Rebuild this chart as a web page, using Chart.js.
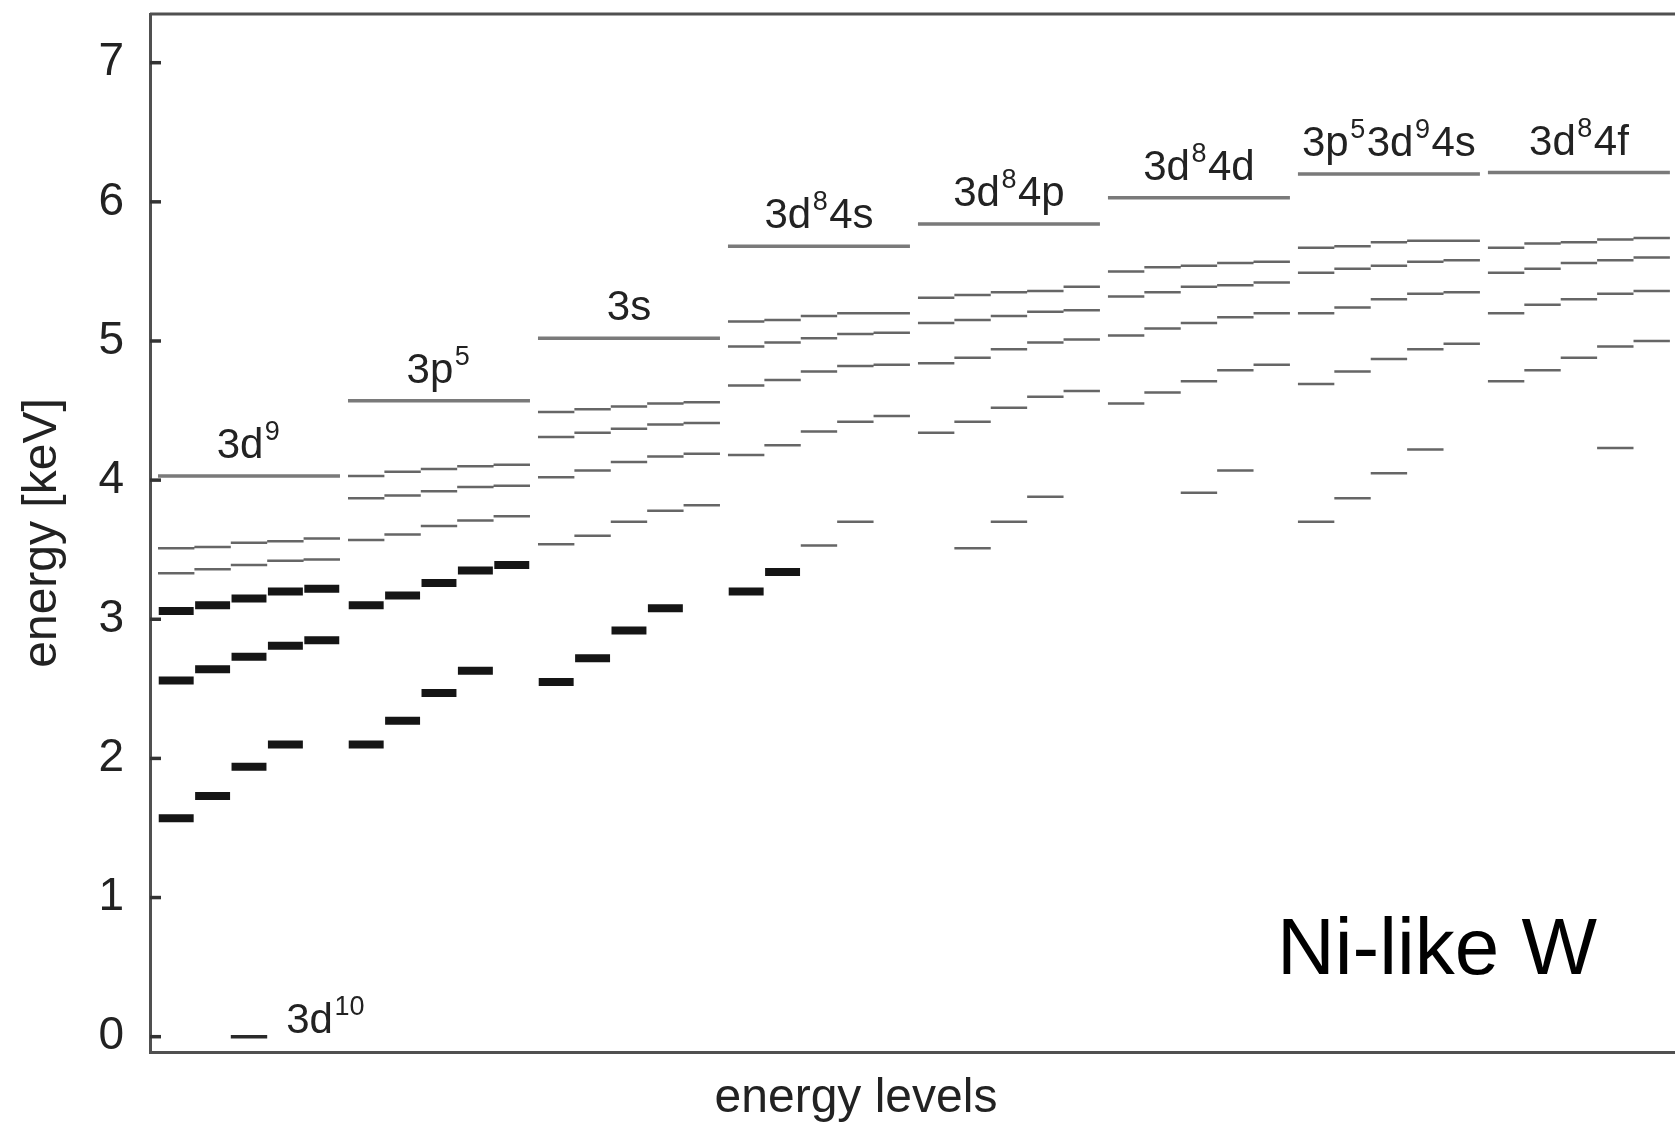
<!DOCTYPE html>
<html>
<head>
<meta charset="utf-8">
<title>Ni-like W energy levels</title>
<script src="https://cdn.jsdelivr.net/npm/chart.js@4/dist/chart.umd.min.js"></script>
<style>
  html, body { margin: 0; padding: 0; background: #fff; }
  canvas { display: block; }
</style>
</head>
<body>
<canvas id="levels" width="1675" height="1123"></canvas>
<script>
// configuration of each column group, drawn as text + superscript pairs
const groupLabels = [
  ['3d', '9'],
  ['3p', '5'],
  ['3s'],
  ['3d', '8', '4s'],
  ['3d', '8', '4p'],
  ['3d', '8', '4d'],
  ['3p', '5', '3d', '9', '4s'],
  ['3d', '8', '4f']
];
const groundLabel = ['3d', '10'];

// energy (keV) of the long line under each label
const limitEnergy = [4.03, 4.57, 5.02, 5.68, 5.84, 6.03, 6.20, 6.21];
const groundEnergy = 0;

// thick levels, five sub-columns per row (null = no level)
const strongLevels = [
  [[1.57, 1.73, 1.94, 2.10, null], [2.56, 2.64, 2.73, 2.81, 2.85], [3.06, 3.10, 3.15, 3.20, 3.22]],
  [[2.10, 2.27, 2.47, 2.63, null], [3.10, 3.17, 3.26, 3.35, 3.39]],
  [[2.55, 2.72, 2.92, 3.08, null]],
  [[3.20, 3.34, null, null, null]],
  [], [], [], []
];

// thin levels
const weakLevels = [
  [[3.33, 3.36, 3.39, 3.42, 3.43], [3.51, 3.52, 3.55, 3.56, 3.58]],
  [[3.57, 3.61, 3.67, 3.71, 3.74], [3.87, 3.89, 3.92, 3.95, 3.96], [4.03, 4.06, 4.08, 4.10, 4.11]],
  [[3.54, 3.60, 3.70, 3.78, 3.82], [4.02, 4.07, 4.13, 4.17, 4.19], [4.31, 4.34, 4.37, 4.40, 4.41], [4.49, 4.51, 4.53, 4.55, 4.56]],
  [[null, null, 3.53, 3.70, null], [4.18, 4.25, 4.35, 4.42, 4.46], [4.68, 4.72, 4.78, 4.82, 4.83], [4.96, 4.99, 5.02, 5.05, 5.06], [5.14, 5.15, 5.18, 5.20, 5.20]],
  [[null, 3.51, 3.70, 3.88, null], [4.34, 4.42, 4.52, 4.60, 4.64], [4.84, 4.88, 4.94, 4.99, 5.01], [5.13, 5.15, 5.18, 5.21, 5.22], [5.31, 5.33, 5.35, 5.36, 5.39]],
  [[null, null, 3.91, 4.07, null], [4.55, 4.63, 4.71, 4.79, 4.83], [5.04, 5.09, 5.13, 5.17, 5.20], [5.32, 5.35, 5.39, 5.40, 5.42], [5.50, 5.53, 5.54, 5.56, 5.57]],
  [[3.70, 3.87, 4.05, 4.22, null], [4.69, 4.78, 4.87, 4.94, 4.98], [5.20, 5.24, 5.30, 5.34, 5.35], [5.49, 5.52, 5.54, 5.57, 5.58], [5.67, 5.68, 5.71, 5.72, 5.72]],
  [[null, null, null, 4.23, null], [4.71, 4.79, 4.88, 4.96, 5.00], [5.20, 5.26, 5.30, 5.34, 5.36], [5.49, 5.52, 5.56, 5.58, 5.60], [5.67, 5.70, 5.71, 5.73, 5.74]]
];

const yTicks = [0, 1, 2, 3, 4, 5, 6, 7];

// horizontal layout: each group is 5 sub-columns wide
const GROUP_OFFSET = 0.22;
const GROUP_STEP = 5.22;
const X_MAX = 41.9;
const FONT = "'Liberation Sans', Arial, Helvetica, sans-serif";

function colX(g, j) {
  return GROUP_OFFSET + g * GROUP_STEP + j;
}

// turn rows of levels into one broken polyline (null y = gap)
function segments(levels, inset) {
  const pts = [];
  levels.forEach((rows, g) => {
    rows.forEach(row => {
      row.forEach((e, j) => {
        if (e === null) return;
        pts.push({ x: colX(g, j) + inset, y: e });
        pts.push({ x: colX(g, j + 1) - inset, y: e });
        pts.push({ x: colX(g, j + 1), y: null });
      });
    });
  });
  return pts;
}

const limitPoints = [];
limitEnergy.forEach((e, g) => {
  limitPoints.push({ x: colX(g, 0), y: e });
  limitPoints.push({ x: colX(g, 5), y: e });
  limitPoints.push({ x: colX(g, 5), y: null });
});

const groundPoints = [
  { x: colX(0, 2), y: groundEnergy },
  { x: colX(0, 3), y: groundEnergy }
];

const lineSet = (data, color, width) => ({
  data: data,
  showLine: true,
  spanGaps: false,
  borderColor: color,
  borderWidth: width,
  borderCapStyle: 'butt',
  pointRadius: 0,
  pointHoverRadius: 0,
  pointHitRadius: 0
});

// text with superscripts: even parts normal, odd parts raised
const SUP_GAP = 1.5;
function drawParts(ctx, parts, x, base, align) {
  const big = '42px ' + FONT;
  const small = '27px ' + FONT;
  const widths = parts.map((p, i) => {
    ctx.font = i % 2 ? small : big;
    return ctx.measureText(p).width + (i % 2 ? 2 * SUP_GAP : 0);
  });
  const total = widths.reduce((a, b) => a + b, 0);
  let cx = align === 'center' ? x - total / 2 : x;
  ctx.textAlign = 'left';
  ctx.textBaseline = 'alphabetic';
  parts.forEach((p, i) => {
    const sup = i % 2 === 1;
    ctx.font = sup ? small : big;
    ctx.fillText(p, sup ? cx + SUP_GAP : cx, sup ? base - 18 : base);
    cx += widths[i];
  });
}

const decorations = {
  id: 'decorations',
  afterDraw(chart) {
    const { ctx, chartArea, scales } = chart;
    const xs = scales.x, ys = scales.y;
    ctx.save();

    // top frame line
    ctx.strokeStyle = '#505050';
    ctx.lineWidth = 3;
    ctx.beginPath();
    ctx.moveTo(chartArea.left, chartArea.top);
    ctx.lineTo(chartArea.right, chartArea.top);
    ctx.stroke();

    // inward tick marks on the energy axis
    ctx.strokeStyle = '#333';
    ctx.lineWidth = 3.5;
    yTicks.forEach(v => {
      const py = ys.getPixelForValue(v);
      ctx.beginPath();
      ctx.moveTo(chartArea.left, py);
      ctx.lineTo(chartArea.left + 11, py);
      ctx.stroke();
    });

    // configuration labels above the limit lines
    ctx.fillStyle = '#222';
    groupLabels.forEach((parts, g) => {
      const cx = xs.getPixelForValue(colX(g, 2.5));
      const base = ys.getPixelForValue(limitEnergy[g]) - 18;
      drawParts(ctx, parts, cx, base, 'center');
    });
    drawParts(ctx, groundLabel, xs.getPixelForValue(colX(0, 3)) + 19,
      ys.getPixelForValue(groundEnergy) - 4, 'left');

    // ion name
    ctx.fillStyle = '#000';
    ctx.font = '80px ' + FONT;
    ctx.textAlign = 'left';
    ctx.fillText('Ni-like W', 1277, 974);

    // x axis title
    ctx.fillStyle = '#222';
    ctx.font = '48px ' + FONT;
    ctx.textAlign = 'center';
    ctx.fillText('energy levels', 856, 1112);

    ctx.restore();
  }
};

new Chart(document.getElementById('levels'), {
  type: 'scatter',
  data: {
    datasets: [
      lineSet(limitPoints, '#7a7a7a', 3.5),
      lineSet(segments(weakLevels, 0), '#666666', 2.5),
      lineSet(segments(strongLevels, 0.02), '#151515', 8),
      lineSet(groundPoints, '#2a2a2a', 3.5)
    ]
  },
  options: {
    responsive: false,
    animation: false,
    devicePixelRatio: 1,
    layout: { padding: { top: 14, right: 0, bottom: 0, left: 0 } },
    plugins: {
      legend: { display: false },
      tooltip: { enabled: false }
    },
    scales: {
      x: {
        type: 'linear',
        min: 0,
        max: X_MAX,
        grid: { display: false },
        ticks: { display: false },
        border: { display: true, color: '#505050', width: 3 },
        afterFit(scale) {
          scale.height = 71;
          scale.paddingLeft = 0;
          scale.paddingRight = 0;
        }
      },
      y: {
        type: 'linear',
        min: -0.11,
        max: 7.35,
        grid: { display: false },
        border: { display: true, color: '#505050', width: 3 },
        ticks: {
          stepSize: 1,
          includeBounds: false,
          padding: 18,
          color: '#222',
          font: { family: FONT, size: 46 }
        },
        title: {
          display: true,
          text: 'energy [keV]',
          color: '#222',
          font: { family: FONT, size: 48 },
          padding: { top: 14, bottom: 0 }
        },
        afterFit(scale) {
          scale.width = 150;
          scale.paddingTop = 0;
          scale.paddingBottom = 0;
        }
      }
    }
  },
  plugins: [decorations]
});
</script>
</body>
</html>
